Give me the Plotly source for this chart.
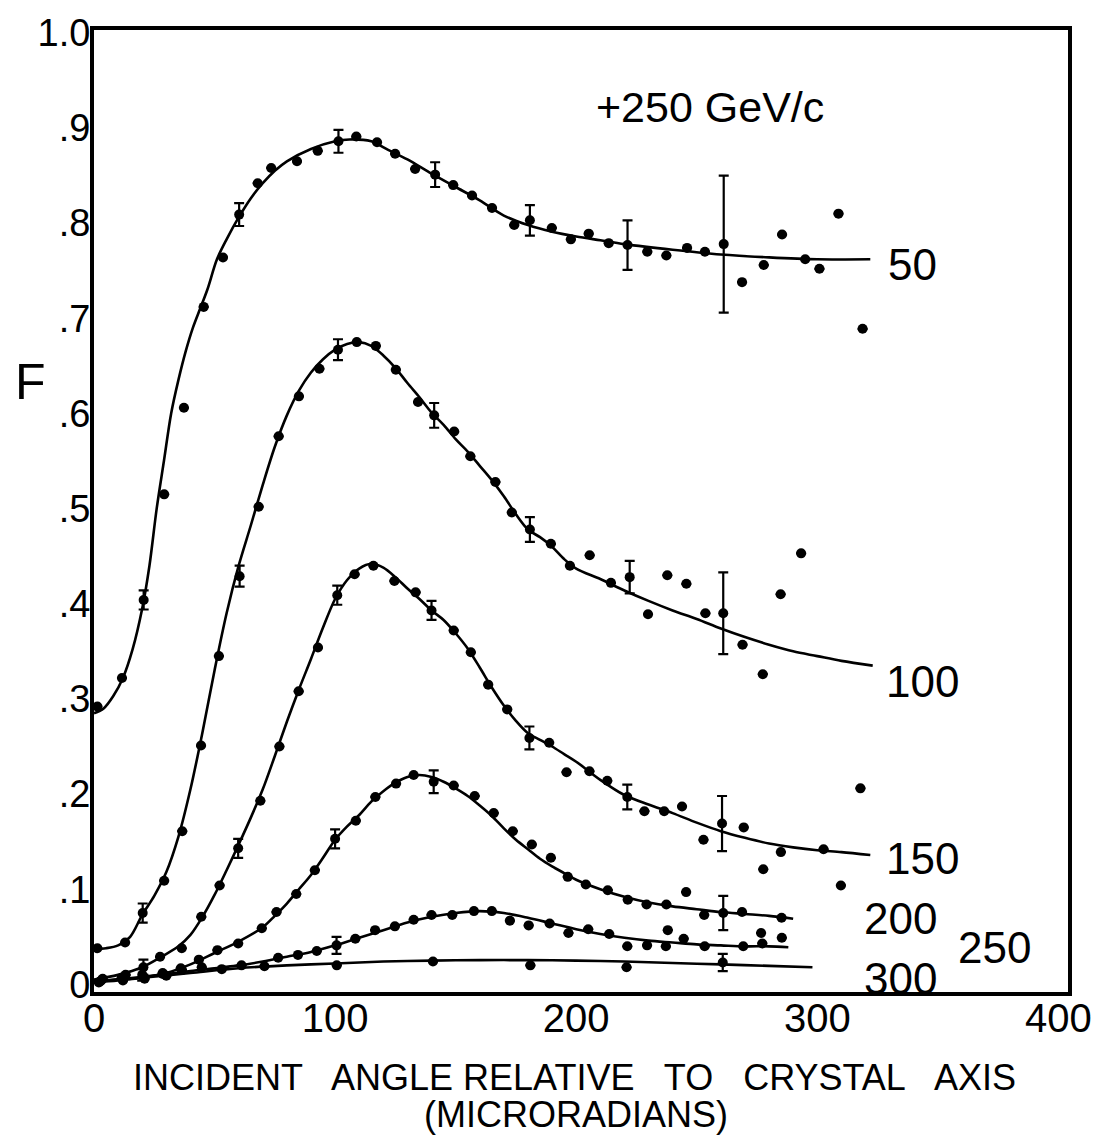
import plotly.graph_objects as go

# ---------------- data ----------------
# measured points: x = incident angle (microradians), F value, error (0 = no bar)
P50_x = [1.4, 11.6, 20.6, 29.1, 37.3, 45.5, 53.5, 60.2, 67.9, 73.5, 84.2, 92.8, 101.4, 108.8, 117.4, 124.9,
         133.2, 141.5, 149.0, 156.8, 165.1, 174.3, 180.8, 189.9, 197.8, 205.2, 213.5, 221.3, 229.5, 237.4,
         246.0, 253.4, 261.2, 268.8, 277.8, 285.4, 295.0, 300.9, 308.8, 318.8]
P50_y = [0.292, 0.322, 0.404, 0.515, 0.606, 0.712, 0.764, 0.809, 0.842, 0.858, 0.865, 0.876, 0.886, 0.891,
         0.885, 0.873, 0.857, 0.851, 0.840, 0.829, 0.816, 0.798, 0.803, 0.795, 0.783, 0.789, 0.779, 0.777,
         0.770, 0.766, 0.774, 0.770, 0.778, 0.738, 0.756, 0.788, 0.762, 0.752, 0.810, 0.689]
P50_e = [0, 0, 0.01, 0, 0, 0, 0, 0.012, 0, 0, 0, 0, 0.012, 0, 0, 0, 0, 0.013, 0, 0, 0, 0, 0.016, 0, 0, 0,
         0, 0.026, 0, 0, 0, 0, 0.072, 0, 0, 0, 0, 0, 0, 0]

P100_x = [1.4, 12.9, 20.2, 29.1, 36.6, 44.4, 51.8, 60.4, 68.3, 76.6, 85.0, 93.5, 101.2, 109.0, 116.9, 125.2,
          134.4, 141.1, 149.4, 156.1, 166.5, 173.3, 180.8, 189.5, 197.4, 205.6, 214.4, 222.2, 229.8, 237.8,
          245.7, 253.6, 261.0, 269.0, 277.4, 284.8, 293.3]
P100_y = [0.038, 0.044, 0.075, 0.109, 0.161, 0.251, 0.345, 0.429, 0.502, 0.576, 0.618, 0.647, 0.667, 0.675,
          0.671, 0.646, 0.612, 0.598, 0.581, 0.555, 0.528, 0.496, 0.478, 0.463, 0.440, 0.451, 0.422, 0.428,
          0.389, 0.430, 0.421, 0.390, 0.390, 0.357, 0.326, 0.410, 0.453]
P100_e = [0, 0, 0.01, 0, 0, 0, 0, 0.011, 0, 0, 0, 0, 0.011, 0, 0, 0, 0, 0.013, 0, 0, 0, 0, 0.013, 0, 0, 0,
          0, 0.017, 0, 0, 0, 0, 0.043, 0, 0, 0, 0]

P150_x = [3.6, 13.1, 20.5, 27.4, 36.4, 44.5, 52.1, 59.8, 69.0, 76.9, 84.9, 92.9, 100.9, 108.1, 115.9, 124.6,
          133.4, 140.0, 149.2, 156.3, 163.5, 171.4, 180.6, 188.8, 196.0, 205.5, 212.9, 221.2, 228.3, 236.5,
          243.9, 252.8, 260.5, 269.5, 277.6, 284.9, 302.6, 309.8, 317.9]
P150_y = [0.006, 0.010, 0.018, 0.029, 0.038, 0.071, 0.104, 0.143, 0.193, 0.250, 0.308, 0.354, 0.409, 0.431,
          0.440, 0.424, 0.412, 0.393, 0.372, 0.349, 0.315, 0.289, 0.259, 0.254, 0.223, 0.224, 0.214, 0.197,
          0.182, 0.182, 0.187, 0.152, 0.169, 0.165, 0.121, 0.139, 0.142, 0.104, 0.206]
P150_e = [0, 0, 0.008, 0, 0, 0, 0, 0.01, 0, 0, 0, 0, 0.01, 0, 0, 0, 0, 0.01, 0, 0, 0, 0, 0.012, 0, 0, 0, 0,
          0.013, 0, 0, 0, 0, 0.029, 0, 0, 0, 0, 0, 0]

P200_x = [2.5, 12.0, 20.5, 28.5, 36.0, 43.5, 51.2, 59.8, 69.6, 75.7, 83.9, 91.6, 100.0, 108.6, 116.7, 125.3,
          132.6, 140.9, 149.2, 157.9, 165.8, 173.7, 181.6, 189.5, 196.5, 204.0, 213.1, 221.4, 229.2, 237.4,
          245.6, 253.1, 261.0, 268.8, 285.2]
P200_y = [0.003, 0.005, 0.008, 0.011, 0.017, 0.026, 0.036, 0.043, 0.059, 0.076, 0.095, 0.120, 0.153, 0.172,
          0.197, 0.211, 0.220, 0.213, 0.209, 0.198, 0.180, 0.161, 0.147, 0.133, 0.113, 0.105, 0.099, 0.089,
          0.084, 0.084, 0.097, 0.073, 0.075, 0.076, 0.070]
P200_e = [0, 0, 0, 0, 0, 0, 0, 0, 0, 0, 0, 0, 0.01, 0, 0, 0, 0, 0.012, 0, 0, 0, 0, 0, 0, 0, 0, 0, 0, 0, 0,
          0, 0, 0.018, 0, 0]

P250_x = [3.0, 11.5, 20.0, 28.5, 36.5, 44.7, 53.0, 61.2, 76.4, 84.6, 92.4, 100.6, 108.4, 116.6, 124.8, 132.6,
          140.0, 148.6, 157.6, 165.0, 172.5, 180.3, 189.0, 196.8, 205.0, 213.7, 221.2, 229.4, 237.2, 238.0,
          244.6, 253.3, 269.3, 276.7, 277.2, 285.3]
P250_y = [0.004, 0.007, 0.010, 0.012, 0.015, 0.018, 0.016, 0.020, 0.028, 0.031, 0.035, 0.041, 0.048, 0.057,
          0.061, 0.068, 0.073, 0.073, 0.077, 0.077, 0.067, 0.062, 0.064, 0.054, 0.058, 0.053, 0.040, 0.041,
          0.040, 0.057, 0.048, 0.040, 0.040, 0.054, 0.043, 0.049]
P250_e = [0, 0, 0.006, 0, 0, 0, 0, 0, 0, 0, 0, 0.009, 0, 0, 0, 0, 0, 0, 0, 0, 0, 0, 0, 0, 0, 0, 0, 0, 0, 0,
          0, 0, 0, 0, 0, 0]

P300_x = [2.0, 12.0, 21.0, 30.0, 70.7, 100.7, 140.6, 181.0, 220.9, 260.8]
P300_y = [0.002, 0.004, 0.006, 0.009, 0.019, 0.020, 0.024, 0.020, 0.018, 0.023]
P300_e = [0, 0, 0, 0, 0, 0, 0, 0, 0, 0.009]

# fitted curves
L50_x = [0, 4, 8, 12, 16, 20, 23, 26, 29, 32, 35, 38, 41, 44, 47, 51, 55, 60, 65, 70, 75, 80, 90, 100, 106,
         115, 122, 130, 140, 150, 160, 170, 180, 190, 200, 210, 220, 240, 260, 280, 300, 322]
L50_y = [0.285, 0.29, 0.303, 0.322, 0.352, 0.395, 0.44, 0.50, 0.55, 0.60, 0.635, 0.665, 0.69, 0.71, 0.73,
         0.762, 0.783, 0.806, 0.826, 0.842, 0.855, 0.865, 0.878, 0.886, 0.888, 0.886, 0.877, 0.867, 0.852,
         0.838, 0.824, 0.808, 0.798, 0.791, 0.786, 0.782, 0.778, 0.772, 0.767, 0.764, 0.762, 0.762]

L100_x = [0, 5, 10, 15, 20, 25, 30, 35, 40, 45, 50, 55, 60, 65, 70, 75, 80, 85, 90, 95, 100, 105, 110, 115,
          120, 125, 130, 135, 140, 145, 150, 155, 160, 165, 170, 175, 180, 185, 190, 195, 200, 210, 220, 230,
          240, 250, 260, 270, 280, 290, 300, 310, 323]
L100_y = [0.037, 0.038, 0.041, 0.05, 0.073, 0.093, 0.118, 0.155, 0.205, 0.265, 0.33, 0.39, 0.44, 0.482,
          0.525, 0.565, 0.598, 0.624, 0.643, 0.657, 0.667, 0.673, 0.675, 0.671, 0.661, 0.648, 0.632, 0.617,
          0.601, 0.588, 0.573, 0.560, 0.545, 0.530, 0.513, 0.494, 0.478, 0.47, 0.46, 0.447, 0.437, 0.426,
          0.414, 0.403, 0.393, 0.384, 0.374, 0.365, 0.357, 0.350, 0.345, 0.340, 0.335]

L150_x = [0, 10, 20, 28, 35, 40, 45, 50, 55, 60, 65, 70, 75, 80, 85, 90, 95, 100, 105, 110, 115, 120, 125,
          130, 135, 140, 145, 150, 155, 160, 165, 170, 175, 180, 185, 190, 195, 200, 210, 220, 230, 240, 250,
          260, 270, 280, 290, 300, 310, 322]
L150_y = [0.005, 0.010, 0.018, 0.029, 0.040, 0.052, 0.071, 0.094, 0.12, 0.147, 0.175, 0.205, 0.24, 0.276,
          0.31, 0.342, 0.375, 0.405, 0.425, 0.437, 0.442, 0.438, 0.428, 0.416, 0.405, 0.393, 0.383, 0.369,
          0.353, 0.333, 0.312, 0.293, 0.277, 0.264, 0.257, 0.250, 0.242, 0.234, 0.215, 0.199, 0.189, 0.180,
          0.170, 0.161, 0.154, 0.148, 0.144, 0.141, 0.139, 0.136]

L200_x = [0, 10, 20, 30, 40, 50, 60, 70, 75, 80, 85, 90, 95, 100, 105, 110, 115, 120, 125, 130, 135, 140,
          145, 150, 155, 160, 165, 170, 175, 180, 185, 190, 195, 200, 210, 220, 230, 240, 250, 260, 270, 280,
          290]
L200_y = [0.002, 0.004, 0.007, 0.012, 0.021, 0.033, 0.045, 0.06, 0.072, 0.085, 0.1, 0.115, 0.133, 0.152,
          0.166, 0.178, 0.192, 0.203, 0.212, 0.218, 0.22, 0.218, 0.213, 0.206, 0.198, 0.188, 0.177, 0.164,
          0.152, 0.142, 0.132, 0.124, 0.117, 0.110, 0.100, 0.092, 0.086, 0.082, 0.079, 0.076, 0.074, 0.072,
          0.069]

L250_x = [0, 20, 40, 60, 70, 80, 90, 100, 110, 120, 130, 140, 150, 160, 170, 180, 190, 200, 210, 220, 230,
          240, 250, 260, 270, 280, 288]
L250_y = [0.003, 0.008, 0.014, 0.02, 0.024, 0.029, 0.034, 0.041, 0.049, 0.057, 0.065, 0.071, 0.075, 0.077,
          0.075, 0.07, 0.064, 0.058, 0.053, 0.049, 0.046, 0.044, 0.042, 0.041, 0.040, 0.040, 0.039]

L300_x = [0, 20, 40, 60, 80, 100, 120, 140, 160, 180, 200, 220, 240, 260, 280, 298]
L300_y = [0.003, 0.007, 0.012, 0.017, 0.020, 0.022, 0.024, 0.025, 0.0255, 0.0255, 0.025, 0.024, 0.0225,
          0.021, 0.0195, 0.018]

CURVE_LABELS = ["50", "100", "150", "200", "250", "300"]
LABEL_X = [339.5, 343.5, 343.5, 334.5, 373.5, 334.5]
LABEL_Y = [0.757, 0.3185, 0.132, 0.0694, 0.0391, 0.0067]

X_TICKS = [0, 100, 200, 300, 400]
Y_TICKS = [0, 0.1, 0.2, 0.3, 0.4, 0.5, 0.6, 0.7, 0.8, 0.9, 1.0]
Y_TICKTEXT = ["0", ".1", ".2", ".3", ".4", ".5", ".6", ".7", ".8", ".9", "1.0"]

TITLE_TEXT = "+250 GeV/c"
XTITLE_1 = "INCIDENT\u00a0\u00a0 ANGLE RELATIVE\u00a0\u00a0 TO\u00a0\u00a0 CRYSTAL\u00a0\u00a0 AXIS"
XTITLE_2 = "(MICRORADIANS)"
YTITLE = "F"

# ---------------- figure ----------------
FONT = "Liberation Sans, Arial, sans-serif"
fig = go.Figure()

lines = [(L50_x, L50_y), (L100_x, L100_y), (L150_x, L150_y),
         (L200_x, L200_y), (L250_x, L250_y), (L300_x, L300_y)]
for lx, ly in lines:
    fig.add_trace(go.Scatter(x=lx, y=ly, mode="lines",
                             line=dict(color="black", width=2.6, shape="spline", smoothing=0.9),
                             hoverinfo="skip", showlegend=False))

points = [(P50_x, P50_y, P50_e), (P100_x, P100_y, P100_e), (P150_x, P150_y, P150_e),
          (P200_x, P200_y, P200_e), (P250_x, P250_y, P250_e), (P300_x, P300_y, P300_e)]
for px, py, pe in points:
    err = [e if e > 0 else None for e in pe]
    fig.add_trace(go.Scatter(x=px, y=py, mode="markers",
                             marker=dict(color="black", size=10),
                             error_y=dict(type="data", array=err, visible=True, color="black",
                                          thickness=2.2, width=5),
                             showlegend=False))

annotations = []
for t, ax, ay in zip(CURVE_LABELS, LABEL_X, LABEL_Y):
    annotations.append(dict(x=ax, y=ay, xref="x", yref="y", text=t, showarrow=False,
                            xanchor="center", yanchor="middle",
                            font=dict(family=FONT, size=44, color="black")))
annotations.append(dict(x=255.5, y=0.922, xref="x", yref="y", text=TITLE_TEXT, showarrow=False,
                        xanchor="center", yanchor="middle",
                        font=dict(family=FONT, size=43, color="black")))
annotations.append(dict(x=-0.065, y=0.634, xref="paper", yref="paper", text=YTITLE, showarrow=False,
                        xanchor="center", yanchor="middle",
                        font=dict(family=FONT, size=50, color="black")))
annotations.append(dict(x=0.493, y=-0.089, xref="paper", yref="paper", text=XTITLE_1, showarrow=False,
                        xanchor="center", yanchor="middle",
                        font=dict(family=FONT, size=36, color="black")))
annotations.append(dict(x=0.495, y=-0.127, xref="paper", yref="paper", text=XTITLE_2, showarrow=False,
                        xanchor="center", yanchor="middle",
                        font=dict(family=FONT, size=36, color="black")))

fig.update_layout(
    width=1104, height=1138,
    margin=dict(l=94, r=28, t=26, b=146),
    paper_bgcolor="white", plot_bgcolor="white",
    showlegend=False,
    annotations=annotations,
    xaxis=dict(range=[0, 404], tickvals=X_TICKS, ticktext=[str(v) for v in X_TICKS],
               showgrid=False, zeroline=False, showline=True, mirror=True,
               linecolor="black", linewidth=4, ticks="", ticklabelstandoff=-12,
               tickfont=dict(family=FONT, size=40, color="black")),
    yaxis=dict(range=[-0.008, 1.003], tickvals=Y_TICKS, ticktext=Y_TICKTEXT,
               showgrid=False, zeroline=False, showline=True, mirror=True,
               linecolor="black", linewidth=4, ticks="", ticklabelstandoff=-8,
               tickfont=dict(family=FONT, size=38, color="black")),
)

fig.write_html("out.html")
